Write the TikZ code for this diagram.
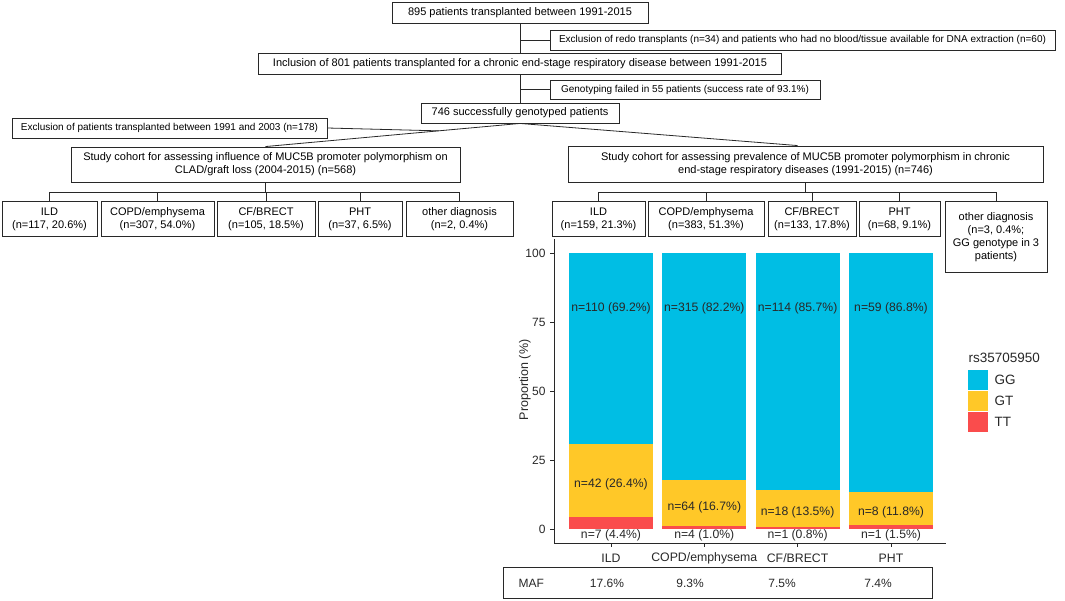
\documentclass[tikz,border=0pt]{standalone}
\usepackage{fontspec}
\setmainfont{Liberation Sans}
\usetikzlibrary{calc}
\definecolor{gg}{RGB}{0,190,228}
\definecolor{gt}{RGB}{255,200,40}
\definecolor{tt}{RGB}{250,76,76}
\definecolor{ink}{RGB}{40,40,40}
\tikzset{
	box/.style={draw=ink, line width=0.9pt, align=center, inner sep=1pt, font=\fontsize{11}{13}\selectfont},
	exbox/.style={box, font=\fontsize{10}{12}\selectfont},
	dbox/.style={box, anchor=north, minimum width=#1, minimum height=35},
	lab/.style={font=\fontsize{12.2}{14}\selectfont, text=ink},
	link/.style={draw=ink, line width=0.8pt}
}

\begin{document}
\begin{tikzpicture}[x=1pt,y=-1pt]
		\useasboundingbox (0,0) rectangle (1065,600);
		% flow chart
		\node[box, minimum width=256, minimum height=21] (pat) at (520,12.5) {895 patients transplanted between 1991-2015};
		\node[exbox, minimum width=505, minimum height=20] (redo) at (802.5,40) {Exclusion of redo transplants (n=34) and patients who had no blood/tissue available for DNA extraction (n=60)};
		\node[box, minimum width=523, minimum height=21] (incl) at (520,63.5) {Inclusion of 801 patients transplanted for a chronic end-stage respiratory disease between 1991-2015};
		\node[exbox, minimum width=270, minimum height=19] (fail) at (685,89.5) {Genotyping failed in 55 patients (success rate of 93.1\%)};
		\node[box, minimum width=198, minimum height=20] (geno) at (520,113) {746 successfully genotyped patients};
		\node[exbox, minimum width=315, minimum height=20] (late) at (169.5,128) {Exclusion of patients transplanted between 1991 and 2003 (n=178)};
		\node[box, minimum width=389, minimum height=35] (cohL) at (265.5,164.5) {Study cohort for assessing influence of MUC5B promoter polymorphism on\\CLAD/graft loss (2004-2015) (n=568)};
		\node[box, minimum width=475, minimum height=36] (cohR) at (805.5,164) {Study cohort for assessing prevalence of MUC5B promoter polymorphism in chronic\\end-stage respiratory diseases (1991-2015) (n=746)};

		\node[dbox=95] (ildL) at (49.5,201) {ILD\\(n=117, 20.6\%)};
		\node[dbox=113] (copdL) at (157.5,201) {COPD/emphysema\\(n=307, 54.0\%)};
		\node[dbox=98] (cfL) at (266,201) {CF/BRECT\\(n=105, 18.5\%)};
		\node[dbox=84] (phtL) at (360,201) {PHT\\(n=37, 6.5\%)};
		\node[dbox=107] (othL) at (459.5,201) {other diagnosis\\(n=2, 0.4\%)};

		\node[dbox=93] (ildR) at (598.5,201) {ILD\\(n=159, 21.3\%)};
		\node[dbox=116] (copdR) at (706,201) {COPD/emphysema\\(n=383, 51.3\%)};
		\node[dbox=88] (cfR) at (812,201) {CF/BRECT\\(n=133, 17.8\%)};
		\node[dbox=81] (phtR) at (899.5,201) {PHT\\(n=68, 9.1\%)};
		\node[dbox=102, minimum height=71] (othR) at (996,201) {other diagnosis\\(n=3, 0.4\%;\\GG genotype in 3\\patients)};

		\draw[link] (pat.south) -- (pat.south |- incl.north);
		\draw[link] (redo.west) -- (redo.west -| pat.south);
		\draw[link] (incl.south) -- (incl.south |- geno.north);
		\draw[link] (fail.west) -- (fail.west -| incl.south);
		\draw[link] (geno.south) -- (cohL.north);
		\draw[link] (geno.south) -- ([xshift=-8pt]cohR.north);
		\draw[link] (late.east) -- ($(geno.south)!0.32!(cohL.north)$);
		\draw[link] (cohL.south) -- ++(0,10) coordinate (splitL);
		\draw[link] (cohR.south) -- ++(0,10) coordinate (splitR);
		\foreach \d in {ildL,copdL,cfL,phtL,othL}
			\draw[link] (\d.north) |- (splitL);
		\foreach \d in {ildR,copdR,cfR,phtR,othR}
			\draw[link] (\d.north) |- (splitR);

		% bar chart, y in percent
		\begin{scope}[shift={(0,529)}, y=2.76pt]
			\foreach \cx/\a/\b/\ggl/\gtl/\ttl/\xl in {
				611/4.4/30.8/{n=110 (69.2\%)}/{n=42 (26.4\%)}/{n=7 (4.4\%)}/ILD,
				704.3/1.0/17.7/{n=315 (82.2\%)}/{n=64 (16.7\%)}/{n=4 (1.0\%)}/COPD\slash emphysema,
				797.6/0.8/14.3/{n=114 (85.7\%)}/{n=18 (13.5\%)}/{n=1 (0.8\%)}/CF\slash BRECT,
				891/1.5/13.3/{n=59 (86.8\%)}/{n=8 (11.8\%)}/{n=1 (1.5\%)}/PHT}{
				\fill[tt] (\cx-42,0) rectangle (\cx+42,\a);
				\fill[gt] (\cx-42,\a) rectangle (\cx+42,\b);
				\fill[gg] (\cx-42,\b) rectangle (\cx+42,100);
				\node[lab] at (\cx,80) {\ggl};
				\node[lab] at (\cx,{(\a+\b)/2-1.5}) {\gtl};
				\node[lab] at (\cx,-2.3) {\ttl};
				\draw[ink, line width=0.8pt] (\cx,-5.07) -- (\cx,-6.5);
				\node[lab, font=\fontsize{12.3}{14}\selectfont] at (\cx,-10.6) {\xl};
			}
			\draw[ink, line width=0.9pt] (554,105) -- (554,-5.07) -- (946,-5.07);
			\foreach \v in {0,25,50,75,100}{
				\draw[ink, line width=0.8pt] (550,\v) -- (554,\v);
				\node[lab, anchor=east, font=\fontsize{12}{14}\selectfont] at (549,\v) {\v};
			}
			\node[lab, rotate=90, font=\fontsize{12.5}{14}\selectfont] at (525,54) {Proportion (\%)};
		\end{scope}

		% legend
		\node[lab, anchor=west, font=\fontsize{13.5}{15}\selectfont] at (965,358) {rs35705950};
		\fill[gg] (968,370) rectangle (988,390);
		\fill[gt] (968,391) rectangle (988,411);
		\fill[tt] (968,412) rectangle (988,432);
		\node[lab, anchor=west, font=\fontsize{13.5}{15}\selectfont] at (991,380) {GG};
		\node[lab, anchor=west, font=\fontsize{13.5}{15}\selectfont] at (991,401) {GT};
		\node[lab, anchor=west, font=\fontsize{13.5}{15}\selectfont] at (991,422) {TT};

		% MAF row
		\node[draw=ink, line width=0.9pt, minimum width=429, minimum height=31, anchor=north west] (maf) at (503,567) {};
		\node[lab, anchor=west, font=\fontsize{12}{14}\selectfont] at (515,583) {MAF};
		\foreach \x/\m in {607/17.6,690/9.3,782/7.5,878/7.4}
			\node[lab, font=\fontsize{12}{14}\selectfont] at (\x,583) {\m\%};
	\end{tikzpicture}
\end{document}
